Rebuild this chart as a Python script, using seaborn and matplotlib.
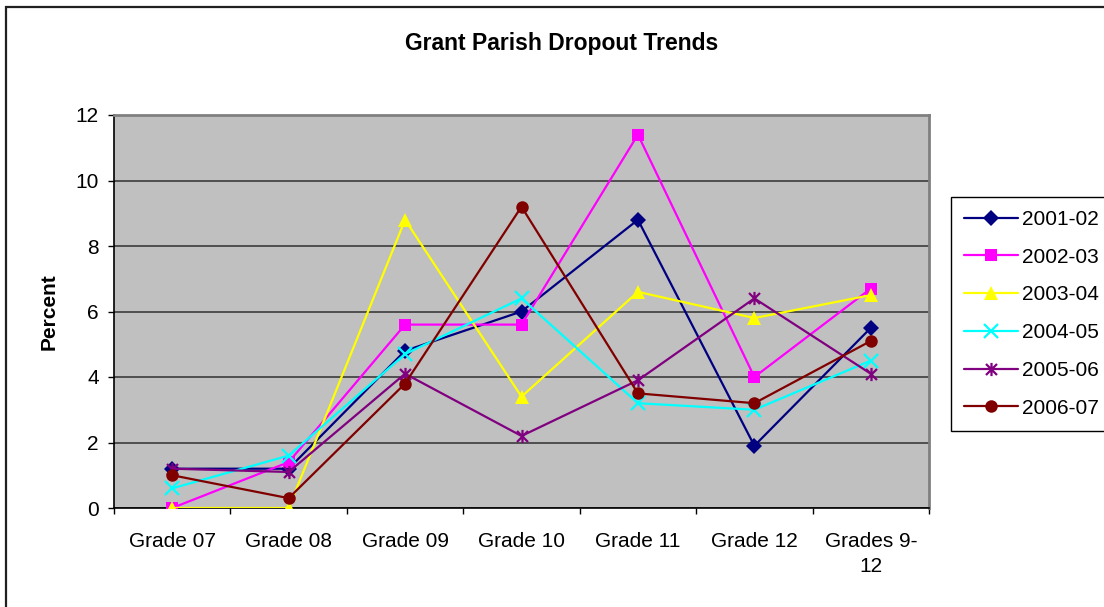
import numpy as np
import pandas as pd
import matplotlib
matplotlib.use("Agg")
import matplotlib.pyplot as plt
from matplotlib.path import Path
from matplotlib.patches import Rectangle
import seaborn as sns

# ---- data ----
grades = ["Grade 07", "Grade 08", "Grade 09", "Grade 10", "Grade 11", "Grade 12", "Grades 9-\n12"]
years = ["2001-02", "2002-03", "2003-04", "2004-05", "2005-06", "2006-07"]
v_2001_02 = [1.2, 1.2, 4.8, 6.0, 8.8, 1.9, 5.5]
v_2002_03 = [0.0, 1.4, 5.6, 5.6, 11.4, 4.0, 6.7]
v_2003_04 = [0.0, 0.0, 8.8, 3.4, 6.6, 5.8, 6.5]
v_2004_05 = [0.6, 1.6, 4.7, 6.4, 3.2, 3.0, 4.5]
v_2005_06 = [1.2, 1.1, 4.1, 2.2, 3.9, 6.4, 4.1]
v_2006_07 = [1.0, 0.3, 3.8, 9.2, 3.5, 3.2, 5.1]
yticks = [0, 2, 4, 6, 8, 10, 12]

series = [v_2001_02, v_2002_03, v_2003_04, v_2004_05, v_2005_06, v_2006_07]
df = pd.DataFrame({
    "grade": [g for _ in years for g in grades],
    "year": [y for y in years for _ in grades],
    "pct": [v for s in series for v in s],
})

colors = ["#000080", "#FF00FF", "#FFFF00", "#00FFFF", "#800080", "#800000"]
palette = dict(zip(years, colors))

ast = Path([(-1, -1), (1, 1), (-1, 1), (1, -1), (0, -1.2), (0, 1.2)],
           [Path.MOVETO, Path.LINETO, Path.MOVETO, Path.LINETO, Path.MOVETO, Path.LINETO])
marker_list = ["D", "s", "^", "x", ast, "o"]
msizes = [8.5, 8.5, 10.5, 9.5, 9.5, 9]

sns.set_theme(style="white")
plt.rcParams["font.family"] = ["Liberation Sans", "DejaVu Sans"]
plt.rcParams["text.color"] = "black"
plt.rcParams["axes.labelcolor"] = "black"
plt.rcParams["xtick.color"] = "black"
plt.rcParams["ytick.color"] = "black"

fig = plt.figure(figsize=(11.04, 6.07), dpi=100)
ax = fig.add_axes([114 / 1104, 1 - 508 / 607, (929 - 114) / 1104, (508 - 115) / 607])
ax.set_facecolor("#C0C0C0")

sns.lineplot(data=df, x="grade", y="pct", hue="year", style="year",
             palette=palette, markers=dict(zip(years, ["o"] * len(years))),
             dashes=False, sort=False, linewidth=1.6, legend=False, ax=ax)

lines = ax.get_lines()[:len(years)]
for ln, c, m, ms in zip(lines, colors, marker_list, msizes):
    ln.set_marker(m)
    ln.set_color(c)
    ln.set_markeredgecolor(c)
    ln.set_markersize(ms)
    if isinstance(m, Path) or m == "x":
        ln.set_markerfacecolor("none")
        ln.set_markeredgewidth(1.6)
    else:
        ln.set_markerfacecolor(c)
        ln.set_markeredgewidth(0)
    ln.set_zorder(3)

ax.set_xlim(-0.5, len(grades) - 0.5)
ax.set_ylim(0, 12)
ax.set_yticks(yticks)
ax.set_yticklabels([str(t) for t in yticks], fontsize=15, color="black")
ax.set_xticks(range(len(grades)))
ax.set_xticklabels(grades, fontsize=15, color="black", linespacing=1.45)
ax.set_xticks(np.arange(-0.5, len(grades), 1.0), minor=True)
ax.tick_params(axis="x", which="major", length=0, pad=17)
ax.tick_params(axis="x", which="minor", length=4, width=1, color="black", direction="out",
               bottom=True)
ax.tick_params(axis="y", which="major", length=4, width=1, color="black", pad=7,
               direction="out", left=True)
ax.grid(axis="y", color="#303030", linewidth=1.1)
ax.grid(axis="x", visible=False)
ax.set_axisbelow(True)

ax.set_xlabel("")
ax.set_ylabel("Percent", fontsize=15, fontweight="bold", labelpad=12, color="black")

for s in ["top", "right"]:
    ax.spines[s].set_color("#808080")
    ax.spines[s].set_linewidth(2)
for s in ["left", "bottom"]:
    ax.spines[s].set_color("black")
    ax.spines[s].set_linewidth(1.2)

fig.text(562 / 1104, 1 - 50 / 607, "Grant Parish Dropout Trends", ha="center",
         va="baseline", fontsize=16.5, fontweight="bold", color="black")

leg = fig.legend(lines, years, loc="upper left",
                 bbox_to_anchor=(951 / 1104, 1 - 197 / 607), fontsize=15,
                 frameon=True, fancybox=False, edgecolor="black", facecolor="white",
                 framealpha=1, borderpad=0.62, labelspacing=0.9, handlelength=2.6,
                 handletextpad=0.2, borderaxespad=0)
leg.get_frame().set_linewidth(1.0)
for t in leg.get_texts():
    t.set_color("black")

fig.patches.append(Rectangle((6 / 1104, -0.05), 1.2, 1 - 7 / 607 + 0.05,
                             transform=fig.transFigure, fill=False,
                             edgecolor="#202020", linewidth=1.6, zorder=10))

fig.savefig("out.png", dpi=100)
